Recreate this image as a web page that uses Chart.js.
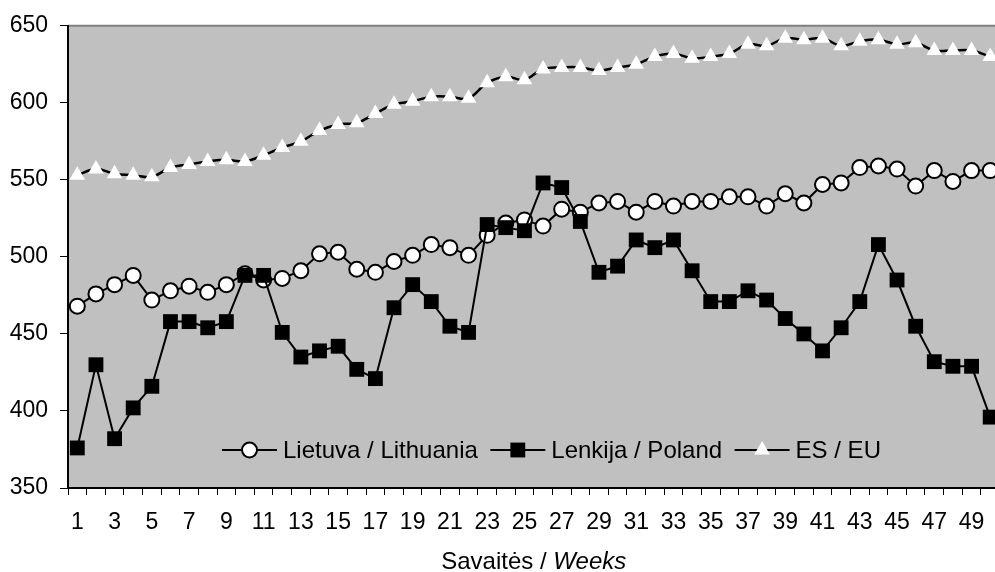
<!DOCTYPE html>
<html>
<head>
<meta charset="utf-8">
<title>Savaitės / Weeks</title>
<script src="https://cdn.jsdelivr.net/npm/chart.js@4.4.1/dist/chart.umd.min.js"></script>
<style>
  html, body { margin: 0; padding: 0; background: #fff; overflow: hidden; }
  #wrap { width: 1010px; height: 572px; }
</style>
</head>
<body>
<div id="wrap"><canvas id="priceChart" width="1010" height="572"></canvas></div>
<script>
const weeks = ["1","2","3","4","5","6","7","8","9","10","11","12","13","14","15","16","17","18","19","20",
  "21","22","23","24","25","26","27","28","29","30","31","32","33","34","35","36","37","38","39","40",
  "41","42","43","44","45","46","47","48","49","50"];

const lithuania = [468, 476, 482, 488, 472, 478, 481, 477, 482, 489, 485, 486, 491, 502, 503, 492, 490, 497, 501, 508,
  506, 501, 514, 522, 524, 520, 531, 529, 535, 536, 529, 536, 533, 536, 536, 539, 539, 533, 541, 535,
  547, 548, 558, 559, 557, 546, 556, 549, 556, 556];

const poland = [376, 430, 382, 402, 416, 458, 458, 454, 458, 488, 488, 451, 435, 439, 442, 427, 421, 467, 482, 471,
  455, 451, 521, 519, 517, 548, 545, 523, 490, 494, 511, 506, 511, 491, 471, 471, 478, 472, 460, 450,
  439, 454, 471, 508, 485, 455, 432, 429, 429, 396];

const eu = [553, 557, 554, 553, 552, 558, 560, 562, 563, 562, 566, 571, 575, 582, 586, 587, 593, 599, 601, 604,
  604, 603, 613, 617, 615, 622, 623, 623, 621, 623, 625, 630, 632, 629, 630, 632, 638, 637, 642, 641,
  642, 637, 640, 641, 638, 639, 634, 634, 634, 630];

const yTicks = [350, 400, 450, 500, 550, 600, 650];
const seriesNames = ["Lietuva / Lithuania", "Lenkija / Poland", "ES / EU"];
const titlePlain = "Savaitės / ";
const titleItalic = "Weeks";

const FONT = "'Liberation Sans', Arial, sans-serif";

// marker drawing for the inside legend
function drawMarker(ctx, ds, x, y) {
  const r = ds.pointRadius;
  ctx.save();
  ctx.fillStyle = ds.pointBackgroundColor;
  ctx.strokeStyle = ds.pointBorderColor;
  ctx.lineWidth = ds.pointBorderWidth;
  ctx.beginPath();
  if (ds.pointStyle === "circle") {
    ctx.arc(x, y, r, 0, Math.PI * 2);
  } else if (ds.pointStyle === "rect") {
    const s = r * Math.SQRT1_2;
    ctx.rect(x - s, y - s, s * 2, s * 2);
  } else {
    const side = r * Math.sqrt(3);
    ctx.moveTo(x, y - r);
    ctx.lineTo(x + side / 2, y + r / 2);
    ctx.lineTo(x - side / 2, y + r / 2);
    ctx.closePath();
  }
  ctx.fill();
  if (ds.pointBorderWidth > 0) ctx.stroke();
  ctx.restore();
}

/* =========================
   PLOT BACKGROUND
========================= */
const plotBackground = {
  id: "plotBackground",
  beforeDraw(chart) {
    const { ctx, chartArea } = chart;
    ctx.save();
    ctx.fillStyle = "#c0c0c0";
    ctx.fillRect(chartArea.left, chartArea.top, chartArea.right - chartArea.left, chartArea.bottom - chartArea.top);
    ctx.strokeStyle = "#808080";
    ctx.lineWidth = 2;
    ctx.beginPath();
    ctx.moveTo(chartArea.left, chartArea.top);
    ctx.lineTo(chartArea.right, chartArea.top);
    ctx.stroke();
    ctx.restore();
  }
};

/* =========================
   LEGEND INSIDE THE PLOT
========================= */
const insideLegend = {
  id: "insideLegend",
  afterDatasetsDraw(chart) {
    const { ctx, chartArea } = chart;
    const y = chartArea.bottom - 38;
    let x = chartArea.left + 154;
    ctx.save();
    ctx.font = "24px " + FONT;
    ctx.fillStyle = "#000";
    ctx.textBaseline = "alphabetic";
    chart.data.datasets.forEach(ds => {
      ctx.strokeStyle = "#000";
      ctx.lineWidth = 2;
      ctx.beginPath();
      ctx.moveTo(x, y);
      ctx.lineTo(x + 55, y);
      ctx.stroke();
      drawMarker(ctx, ds, x + 27.5, y);
      ctx.fillStyle = "#000";
      ctx.fillText(ds.label, x + 61, y + 7.5);
      x += 61 + ctx.measureText(ds.label).width + 12.5;
    });
    ctx.restore();
  }
};

/* =========================
   X AXIS TITLE (part italic)
========================= */
const xTitle = {
  id: "xTitle",
  afterDraw(chart) {
    const { ctx, chartArea } = chart;
    ctx.save();
    ctx.fillStyle = "#000";
    ctx.textBaseline = "alphabetic";
    ctx.font = "24px " + FONT;
    const w1 = ctx.measureText(titlePlain).width;
    ctx.font = "italic 24px " + FONT;
    const w2 = ctx.measureText(titleItalic).width;
    const start = (chartArea.left + chartArea.right) / 2 - (w1 + w2) / 2;
    ctx.font = "24px " + FONT;
    ctx.fillText(titlePlain, start, 569);
    ctx.font = "italic 24px " + FONT;
    ctx.fillText(titleItalic, start + w1, 569);
    ctx.restore();
  }
};

function initChart() {
  const ctx = document.getElementById("priceChart");
  if (!ctx) return;

  const common = {
    borderColor: "#000",
    borderWidth: 2,
    pointBorderColor: "#000",
    pointHoverRadius: 0,
    clip: false,
    fill: false
  };

  new Chart(ctx, {
    type: "line",
    data: {
      labels: weeks,
      datasets: [
        {
          ...common,
          label: seriesNames[0],
          data: lithuania,
          tension: 0,
          pointStyle: "circle",
          pointRadius: 7.5,
          pointBorderWidth: 2,
          pointBackgroundColor: "#fff",
          order: 2
        },
        {
          ...common,
          label: seriesNames[1],
          data: poland,
          tension: 0,
          pointStyle: "rect",
          pointRadius: 10.5,
          pointBorderWidth: 0,
          pointBackgroundColor: "#000",
          order: 1
        },
        {
          ...common,
          label: seriesNames[2],
          data: eu,
          tension: 0.4,
          borderWidth: 2.5,
          pointStyle: "triangle",
          pointRadius: 9,
          pointBorderWidth: 0,
          pointBorderColor: "#fff",
          pointBackgroundColor: "#fff",
          order: 3
        }
      ]
    },
    options: {
      responsive: false,
      animation: false,
      devicePixelRatio: 1,
      layout: { padding: { left: 9, top: 22, right: 9, bottom: 37.4 } },
      plugins: {
        legend: { display: false },
        tooltip: { enabled: false }
      },
      scales: {
        x: {
          offset: true,
          afterFit: scale => { scale.height = 46.6; },
          grid: { offset: true, drawOnChartArea: false, tickLength: 7, color: "#000", lineWidth: 1 },
          border: { color: "#000", width: 2 },
          ticks: {
            autoSkip: false,
            maxRotation: 0,
            minRotation: 0,
            padding: 14,
            color: "#000",
            font: { family: FONT, size: 23 },
            callback: (v, i) => (i % 2 === 0 ? weeks[i] : "")
          }
        },
        y: {
          min: 350,
          max: 650,
          afterBuildTicks: scale => {
            scale.ticks = yTicks.map(v => ({ value: v }));
          },
          afterFit: scale => { scale.width = 59; },
          grid: { drawOnChartArea: false, tickLength: 8, color: "#000", lineWidth: 1 },
          border: { color: "#000", width: 2 },
          ticks: {
            padding: 12,
            color: "#000",
            font: { family: FONT, size: 23 }
          }
        }
      }
    },
    plugins: [plotBackground, insideLegend, xTitle]
  });
}

document.addEventListener("DOMContentLoaded", initChart);
</script>
</body>
</html>
